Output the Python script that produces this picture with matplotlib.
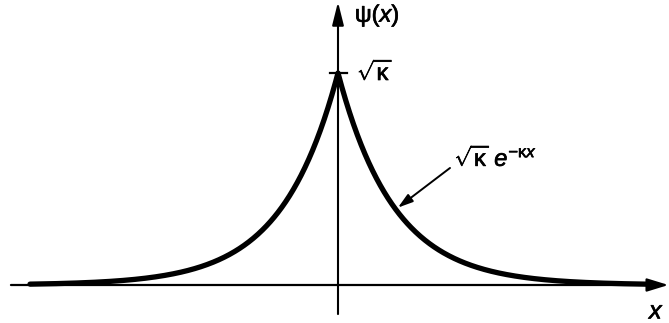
import numpy as np
import matplotlib
matplotlib.use("Agg")
import matplotlib.pyplot as plt
import matplotlib.patheffects as pe

plt.rcParams['font.family'] = ['Liberation Sans', 'DejaVu Sans']
plt.rcParams['mathtext.fontset'] = 'custom'
plt.rcParams['mathtext.rm'] = 'Liberation Sans'
plt.rcParams['mathtext.it'] = 'Liberation Sans:italic'
plt.rcParams['mathtext.sf'] = 'Liberation Sans'

# Curve parameters (psi(x) = sqrt(kappa) * exp(-kappa |x|), kappa = 1)
kappa = 1.0
x_extent = 5.5
peak_label = r'$\sqrt{\mathrm{\kappa}}$'
curve_label = r'$\sqrt{\mathrm{\kappa}}\;e^{-\mathrm{\kappa} x}$'
y_label = r'$\mathrm{\psi}(x)$'
x_label = r'$x$'

x = np.linspace(-x_extent, x_extent, 801)
psi = np.sqrt(kappa) * np.exp(-kappa * np.abs(x))

fig = plt.figure(figsize=(6.69, 3.23), dpi=100)
ax = fig.add_axes([0, 0, 1, 1])
ax.set_xlim(-338 / 56, 331 / 56)
ax.set_ylim(-38 / 212, 285 / 212)
ax.axis('off')

bold = [pe.withStroke(linewidth=0.5, foreground='black')]

# axes with arrows
ax.annotate('', xy=(5.9, 0), xytext=(-5.84, 0),
            arrowprops=dict(arrowstyle='-|>,head_length=1.3,head_width=0.4',
                            lw=1.6, color='black', shrinkA=0, shrinkB=0))
ax.annotate('', xy=(0, 1.335), xytext=(0, -0.137),
            arrowprops=dict(arrowstyle='-|>,head_length=1.4,head_width=0.35',
                            lw=1.5, color='black', shrinkA=0, shrinkB=0))

# the curve
ax.plot(x, psi, color='black', lw=3.8, solid_capstyle='round',
        solid_joinstyle='round')

# tick at the peak
ax.plot([-0.15, 0.16], [np.sqrt(kappa), np.sqrt(kappa)], color='black', lw=1.6)

ax.text(0.34, 1.005, peak_label, fontsize=17, ha='left', va='center',
        path_effects=bold)
ax.text(0.30, 1.27, y_label, fontsize=17, ha='left', va='center',
        path_effects=bold)
ax.text(5.70, -0.125, x_label, fontsize=18, ha='center', va='center',
        path_effects=bold)
ax.text(2.08, 0.60, curve_label, fontsize=17, ha='left', va='center',
        path_effects=bold)

ax.annotate('', xy=(1.07, 0.365), xytext=(2.0, 0.552),
            arrowprops=dict(arrowstyle='-|>,head_length=0.9,head_width=0.28',
                            lw=1.4, color='black', shrinkA=0, shrinkB=0))

fig.savefig('out.png', dpi=100)
